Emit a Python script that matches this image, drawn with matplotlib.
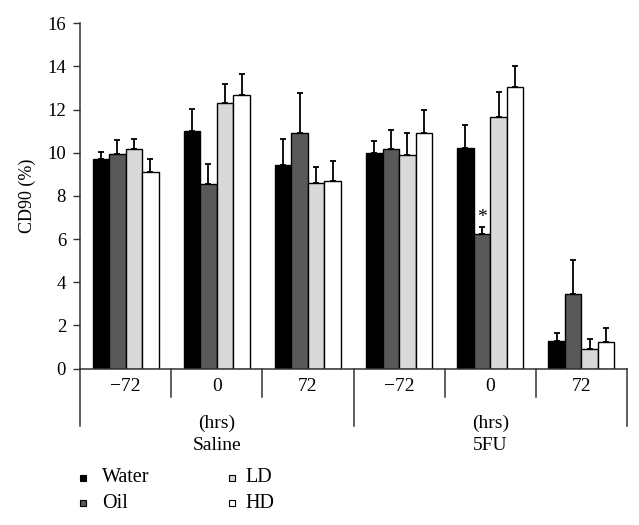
import matplotlib
matplotlib.use("Agg")
import matplotlib.pyplot as plt
from matplotlib.lines import Line2D
from matplotlib.transforms import blended_transform_factory
import numpy as np

plt.rcParams['font.family'] = ['Liberation Serif', 'DejaVu Serif']

# data
series = ["Water", "Oil", "LD", "HD"]
colors = ["#000000", "#595959", "#d9d9d9", "#ffffff"]
time_labels = ["\u221272", "0", "72", "\u221272", "0", "72"]
treatments = ["Saline", "5FU"]

means = {
    "Water": [9.72, 11.0, 9.44, 9.97, 10.22, 1.28],
    "Oil":   [9.94, 8.53, 10.9, 10.19, 6.23, 3.47],
    "LD":    [10.19, 12.3, 8.61, 9.88, 11.65, 0.91],
    "HD":    [9.1, 12.67, 8.69, 10.93, 13.04, 1.24],
}
errors = {
    "Water": [0.3, 1.03, 1.2, 0.59, 1.05, 0.37],
    "Oil":   [0.63, 0.93, 1.85, 0.86, 0.31, 1.54],
    "LD":    [0.47, 0.9, 0.72, 1.02, 1.17, 0.46],
    "HD":    [0.63, 0.96, 0.93, 1.06, 1.0, 0.64],
}
# significance marker: (group index, series)
signif = [(4, "Oil")]

W, H = 639, 525
fig = plt.figure(figsize=(W / 100, H / 100), dpi=100)
ax = fig.add_axes([80 / W, 1 - 368.5 / H, 547 / W, 345.2 / H])

n_groups = len(time_labels)
x = np.arange(n_groups) + 0.5
bw = 0.181
for i, s in enumerate(series):
    pos = x + (i - 1.5) * bw
    ax.bar(pos, means[s], bw, color=colors[i], edgecolor="black", linewidth=1.0, zorder=2)
    ax.errorbar(pos, means[s], yerr=[np.zeros(n_groups), errors[s]], fmt="none",
                ecolor="black", elinewidth=1.3, capsize=2, capthick=1.3, zorder=1)

for g, s in signif:
    i = series.index(s)
    ax.text(x[g] + (i - 1.5) * bw, means[s][g] + errors[s][g] + 0.05, "*",
            ha="center", va="bottom", fontsize=14)

ax.set_xlim(0, n_groups)
ax.set_ylim(0, 16)
ax.set_yticks(range(0, 17, 2))
ax.tick_params(axis="y", direction="out", length=5, width=1, labelsize=13.5, pad=5, color="#333333")
ax.set_xticks([])
for side in ["top", "right"]:
    ax.spines[side].set_visible(False)
for side in ["left", "bottom"]:
    ax.spines[side].set_linewidth(1.1)
    ax.spines[side].set_color("#333333")
ax.set_ylabel("CD90 (%)", fontsize=13)
ax.yaxis.set_label_coords(-44 / 547, 0.5)

# category axis below the plot
tr = blended_transform_factory(ax.transData, ax.transAxes)
def ay(ypix):
    return (368.5 - ypix) / 345.2

for k in range(n_groups + 1):
    long = k % 3 == 0
    ax.add_line(Line2D([k, k], [0, ay(426 if long else 397)], transform=tr,
                       color="#333333", lw=1.1, clip_on=False))
for k, lab in enumerate(time_labels):
    ax.text(x[k], ay(386.5), lab, transform=tr, ha="center", va="center", fontsize=14)
for t, lab in enumerate(treatments):
    xc = 3 * t + 1.5
    ax.text(xc, ay(423), "(hrs)", transform=tr, ha="center", va="center", fontsize=14)
    ax.text(xc, ay(446), lab, transform=tr, ha="center", va="center", fontsize=14)

# legend, two columns
for i, s in enumerate(series):
    col, row = i // 2, i % 2
    mx = 83 + col * 149
    my = 478 + row * 25
    fig.add_artist(Line2D([mx / W], [1 - my / H], marker="s", ls="none", markersize=5,
                          markerfacecolor=colors[i], markeredgecolor="black",
                          markeredgewidth=0.8, transform=fig.transFigure))
    fig.text((mx + (19 if col == 0 else 13)) / W, 1 - my / H, s, ha="left", va="center", fontsize=14.5)

fig.savefig("out.png", dpi=100)
